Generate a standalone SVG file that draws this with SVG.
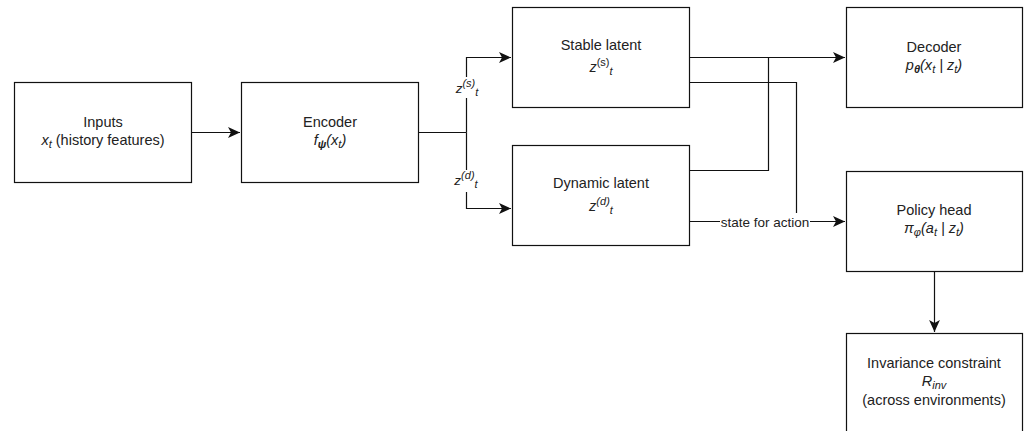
<svg xmlns="http://www.w3.org/2000/svg" width="1032" height="431" viewBox="0 0 1032 431">
<style>
.box{fill:#fff;stroke:#111;stroke-width:1.2}
.t{font-family:"Liberation Sans",Arial,sans-serif;font-size:14.5px;fill:#222;text-anchor:middle}
.e{font-family:"Liberation Sans",Arial,sans-serif;font-size:13.5px;fill:#222;text-anchor:middle}
.i{font-style:italic}
.s{font-size:11px}
.b{font-weight:bold}
.ln{fill:none;stroke:#111;stroke-width:1.2}
.bg{fill:#fff}
</style>
<defs>
<marker id="arr" markerUnits="userSpaceOnUse" markerWidth="12" markerHeight="12" refX="10" refY="5" orient="auto" viewBox="0 0 10 10">
<path d="M0,0.5 L10,5 L0,9.5 L2.5,5 Z" fill="#111"/>
</marker>
</defs>
<g id="connectors">
<path class="ln" d="M191,132.5 H240" marker-end="url(#arr)"/>
<path class="ln" d="M418,132.5 H466.5"/>
<path class="ln" d="M466.5,132.5 V57.5 H511" marker-end="url(#arr)"/>
<path class="ln" d="M466.5,132.5 V208.5 H511" marker-end="url(#arr)"/>
<path class="ln" d="M689,57.5 H845" marker-end="url(#arr)"/>
<path class="ln" d="M689,170.5 H768.5 V57.5"/>
<path class="ln" d="M689,82.5 H796.5 V221.5"/>
<path class="ln" d="M689,221.5 H845" marker-end="url(#arr)"/>
<path class="ln" d="M934.5,271 V332" marker-end="url(#arr)"/>
<rect class="bg" x="450" y="77" width="36" height="21"/>
<text class="e" x="467" y="93"><tspan class="i">z</tspan><tspan class="i s" dy="-6">(s)</tspan><tspan class="i s" dy="9">t</tspan></text>
<rect class="bg" x="450" y="170" width="36" height="22"/>
<text class="e" x="466" y="185"><tspan class="i">z</tspan><tspan class="i s" dy="-6">(d)</tspan><tspan class="i s" dy="9">t</tspan></text>
<rect class="bg" x="720" y="213" width="90" height="17"/>
<text class="e" x="765" y="227">state for action</text>
</g>
<g id="inputs">
<rect class="box" x="14.5" y="82.5" width="177" height="100"/>
<text class="t" x="103" y="127">Inputs</text>
<text class="t" x="103" y="145"><tspan class="i">x</tspan><tspan class="i s" dy="3">t</tspan><tspan dy="-3"> (history features)</tspan></text>
</g>
<g id="encoder">
<rect class="box" x="241.5" y="82.5" width="177" height="100"/>
<text class="t" x="330" y="127">Encoder</text>
<text class="t i" x="330" y="145"><tspan>f</tspan><tspan class="s b" dy="3">ψ</tspan><tspan dy="-3">(x</tspan><tspan class="s" dy="3">t</tspan><tspan dy="-3">)</tspan></text>
</g>
<g id="stable">
<rect class="box" x="512.5" y="7.5" width="177" height="100"/>
<text class="t" x="601" y="50">Stable latent</text>
<text class="t" x="601" y="72"><tspan class="i">z</tspan><tspan class="s" dy="-6">(s)</tspan><tspan class="i s" dy="9">t</tspan></text>
</g>
<g id="dynamic">
<rect class="box" x="512.5" y="145.5" width="177" height="100"/>
<text class="t" x="601" y="188">Dynamic latent</text>
<text class="t i" x="601" y="211"><tspan>z</tspan><tspan class="s" dy="-6">(d)</tspan><tspan class="s" dy="9">t</tspan></text>
</g>
<g id="decoder">
<rect class="box" x="846.5" y="7.5" width="176" height="100"/>
<text class="t" x="934" y="52">Decoder</text>
<text class="t i" x="934" y="70"><tspan>p</tspan><tspan class="s b" dy="3">θ</tspan><tspan dy="-3">(x</tspan><tspan class="s" dy="3">t</tspan><tspan dy="-3"> | z</tspan><tspan class="s" dy="3">t</tspan><tspan dy="-3">)</tspan></text>
</g>
<g id="policy">
<rect class="box" x="846.5" y="171.5" width="176" height="100"/>
<text class="t" x="934" y="215">Policy head</text>
<text class="t i" x="934" y="233"><tspan>π</tspan><tspan class="s" dy="3">φ</tspan><tspan dy="-3">(a</tspan><tspan class="s" dy="3">t</tspan><tspan dy="-3"> | z</tspan><tspan class="s" dy="3">t</tspan><tspan dy="-3">)</tspan></text>
</g>
<g id="invariance">
<rect class="box" x="846.5" y="333.5" width="176" height="100"/>
<text class="t" x="934" y="368">Invariance constraint</text>
<text class="t i" x="934" y="386"><tspan>R</tspan><tspan class="s" dy="3">inv</tspan></text>
<text class="t" x="934" y="405">(across environments)</text>
</g>
</svg>
